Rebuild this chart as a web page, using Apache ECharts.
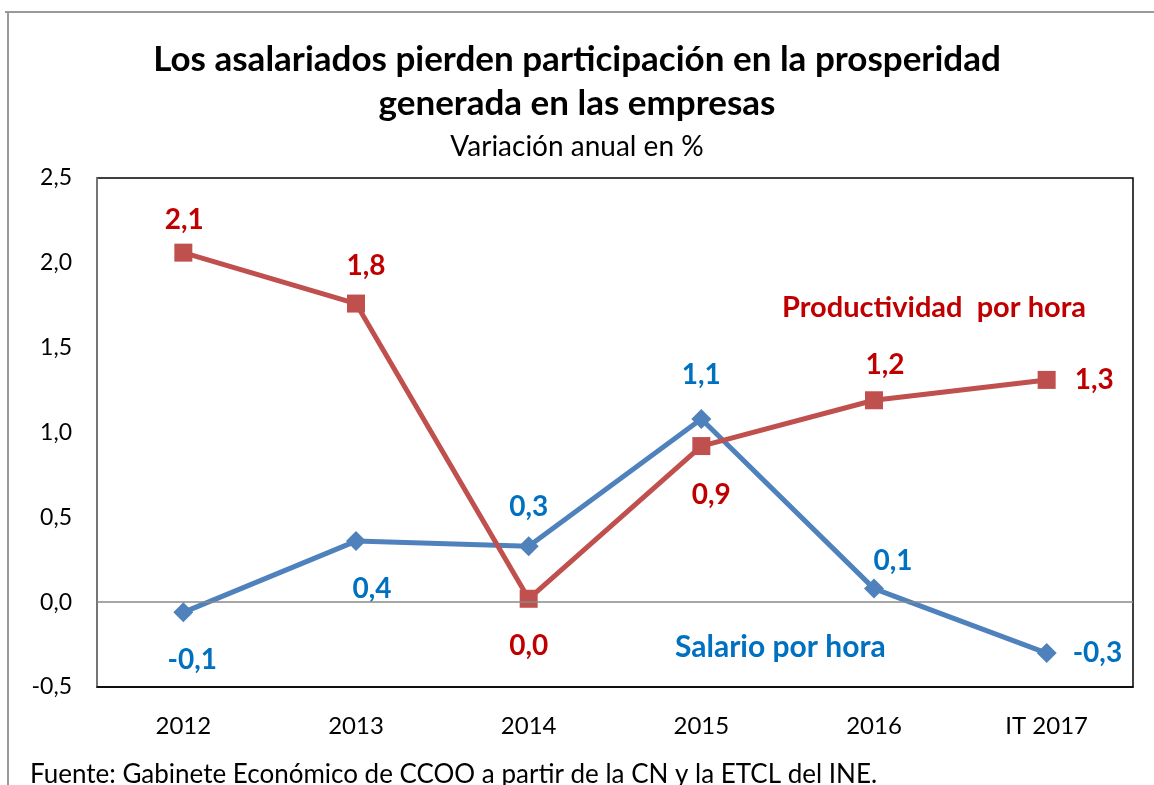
<!DOCTYPE html>
<html>
<head>
<meta charset="utf-8">
<script src="https://cdn.jsdelivr.net/npm/echarts@6/dist/echarts.min.js"></script>
<style>
  html, body { margin: 0; padding: 0; background: #fff; }
  #chart { width: 1154px; height: 785px; }
</style>
</head>
<body>
<div id="chart"></div>
<script>
// datos
const categories = ['2012', '2013', '2014', '2015', '2016', 'IT 2017'];
const productividad = [2.06, 1.76, 0.02, 0.92, 1.19, 1.31];
const salario = [-0.06, 0.36, 0.33, 1.08, 0.08, -0.3];
const yTicks = { min: -0.5, max: 2.5, interval: 0.5 };

// colocacion de cada etiqueta: [posicion, distancia, desplazamiento x]
const prodLabelPos = [['top', 10, 1], ['top', 15, 10], ['bottom', 24, 0], ['bottom', 26, 10], ['top', 12, 11], ['right', 19, 0]];
const salLabelPos = [['bottom', 24, 9], ['bottom', 24, 16], ['top', 15, 0], ['top', 20, 0], ['top', 4, 19], ['right', 16, 0]];

const FONT = 'Lato, "Open Sans", sans-serif';
const fmt = v => v.toFixed(1).replace('.', ',');

const buildData = (values, positions) => values.map((v, i) => {
  const [position, distance, dx] = positions[i];
  return { value: v, label: { position, distance, offset: [dx, 0] } };
});

const chart = echarts.init(document.getElementById('chart'));

const option = {
  animation: false,
  backgroundColor: '#fff',
  title: [
    {
      text: 'Los asalariados pierden participación en la prosperidad\ngenerada en las empresas',
      left: 'center',
      top: 33,
      textStyle: { fontFamily: FONT, fontSize: 35, fontWeight: 'bold', color: '#000', lineHeight: 44 }
    },
    {
      text: 'Variación anual en %',
      left: 'center',
      top: 128,
      textStyle: { fontFamily: FONT, fontSize: 28, fontWeight: 'normal', color: '#000', lineHeight: 28 }
    }
  ],
  grid: {
    left: 97, right: 21, top: 178, bottom: 98,
    show: true, borderColor: '#000', borderWidth: 1.5
  },
  xAxis: {
    type: 'category',
    data: categories,
    boundaryGap: true,
    axisLine: { onZero: false, lineStyle: { color: '#000', width: 1.5 } },
    axisTick: { show: false },
    axisLabel: { fontFamily: FONT, fontSize: 24, color: '#000', margin: 27 }
  },
  yAxis: {
    type: 'value',
    min: yTicks.min,
    max: yTicks.max,
    interval: yTicks.interval,
    axisLine: { show: true, lineStyle: { color: '#888', width: 1.5 } },
    axisTick: { show: false },
    splitLine: { show: false },
    axisLabel: { fontFamily: FONT, fontSize: 23, color: '#000', margin: 25, formatter: fmt }
  },
  series: [
    {
      name: 'Salario por hora',
      type: 'line',
      data: buildData(salario, salLabelPos),
      symbol: 'diamond',
      symbolSize: 20,
      lineStyle: { color: '#4F81BD', width: 5 },
      itemStyle: { color: '#4F81BD' },
      label: {
        show: true,
        fontFamily: FONT, fontSize: 28, fontWeight: 'bold', color: '#0070C0',
        formatter: p => fmt(p.value)
      },
      markLine: {
        silent: true,
        symbol: 'none',
        label: { show: false },
        lineStyle: { color: '#888', width: 1.5, type: 'solid' },
        data: [{ yAxis: 0 }]
      },
      z: 3
    },
    {
      name: 'Productividad por hora',
      type: 'line',
      data: buildData(productividad, prodLabelPos),
      symbol: 'rect',
      symbolSize: 18,
      lineStyle: { color: '#C0504D', width: 5 },
      itemStyle: { color: '#C0504D' },
      label: {
        show: true,
        fontFamily: FONT, fontSize: 28, fontWeight: 'bold', color: '#C00000',
        formatter: p => fmt(p.value)
      },
      z: 4
    }
  ],
  graphic: [
    // marco exterior
    { type: 'line', shape: { x1: 5, y1: 12, x2: 1154, y2: 12 }, style: { stroke: '#999', lineWidth: 2 } },
    { type: 'line', shape: { x1: 8, y1: 12, x2: 8, y2: 785 }, style: { stroke: '#999', lineWidth: 2 } },
    {
      type: 'text', left: 782, top: 293,
      style: { text: 'Productividad  por hora', fontFamily: FONT, fontSize: 29, fontWeight: 'bold', fill: '#C00000' }
    },
    {
      type: 'text', left: 675, top: 632,
      style: { text: 'Salario por hora', fontFamily: FONT, fontSize: 30, fontWeight: 'bold', fill: '#0070C0' }
    },
    {
      type: 'text', left: 30, top: 762,
      style: { text: 'Fuente: Gabinete Económico de CCOO a partir de la CN y la ETCL del INE.', fontFamily: FONT, fontSize: 26, fill: '#000' }
    }
  ]
};

chart.setOption(option);
</script>
</body>
</html>
